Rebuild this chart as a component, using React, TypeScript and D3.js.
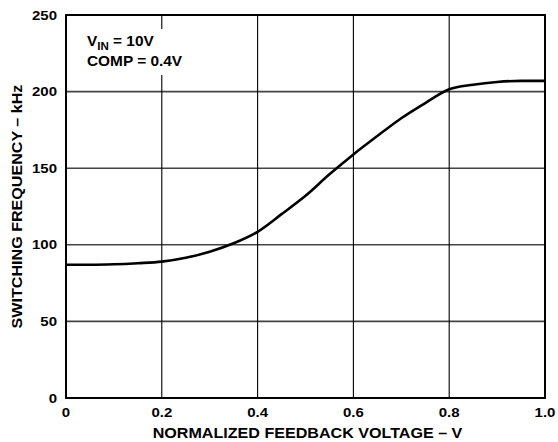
import React from "react";
import * as d3 from "d3";

const xValues = [0, 0.05, 0.1, 0.15, 0.2, 0.25, 0.3, 0.35, 0.4, 0.45, 0.5, 0.55, 0.6, 0.65, 0.7, 0.75, 0.8, 0.85, 0.9, 0.95, 1.0];
const freqValues = [87, 87, 87.3, 88, 89, 91.5, 95.5, 101, 108.5, 120, 132, 146, 159, 171, 182.6, 192.5, 201.5, 204.5, 206.3, 207, 207];
const xTicks = [0, 0.2, 0.4, 0.6, 0.8, 1.0];
const yTicks = [0, 50, 100, 150, 200, 250];

const W = 558, H = 442;
const M = { left: 66, right: 545, top: 15, bottom: 398 };
const FONT = "'Liberation Sans', Arial, Helvetica, sans-serif";

function SText({ x, y, sx = 1.15, rotate = 0, anchor = "start", size = 14, children }: any) {
  return (
    <text
      transform={`translate(${x},${y}) rotate(${rotate}) scale(${sx},1)`}
      textAnchor={anchor}
      fontSize={size}
      fontWeight="bold"
    >
      {children}
    </text>
  );
}

export default function App() {
  const x = d3.scaleLinear().domain([0, 1]).range([M.left, M.right]);
  const y = d3.scaleLinear().domain([0, 250]).range([M.bottom, M.top]);
  const pts: [number, number][] = xValues.map((v, i) => [v, freqValues[i]]);
  const line = d3.line<[number, number]>().x(d => x(d[0])).y(d => y(d[1])).curve(d3.curveMonotoneX);

  return (
    <svg width={W} height={H} style={{ position: "absolute", left: 0, top: 0 }} fontFamily={FONT}>
      <rect width={W} height={H} fill="#fff" />
      {yTicks.slice(1, -1).map(t => (
        <line key={"h" + t} x1={M.left} x2={M.right} y1={y(t)} y2={y(t)} stroke="#444" strokeWidth={1.6} />
      ))}
      {xTicks.slice(1, -1).map(t => (
        <line key={"v" + t} x1={x(t)} x2={x(t)} y1={M.top} y2={M.bottom} stroke="#000" strokeWidth={1.1} />
      ))}
      <rect x={80} y={29} width={108} height={46} fill="#fff" />
      <path d={line(pts) || ""} fill="none" stroke="#000" strokeWidth={2.6} />
      <rect x={M.left} y={M.top} width={M.right - M.left} height={M.bottom - M.top} fill="none" stroke="#000" strokeWidth={2} />
      {yTicks.map(t => (
        <SText key={"yl" + t} x={57} y={y(t) + 4.5} anchor="end" size={12.5} sx={1.2}>{t}</SText>
      ))}
      {xTicks.map(t => (
        <SText key={"xl" + t} x={x(t)} y={417} anchor="middle" size={12.5} sx={1.2}>{t === 0 ? "0" : t.toFixed(1)}</SText>
      ))}
      <SText x={(M.left + M.right) / 2 + 2} y={438} anchor="middle" size={14} sx={1.15}>NORMALIZED FEEDBACK VOLTAGE – V</SText>
      <SText x={22} y={(M.top + M.bottom) / 2} rotate={-90} anchor="middle" size={14} sx={1.15}>SWITCHING FREQUENCY – kHz</SText>
      <SText x={87} y={46} size={14} sx={1.1}>V<tspan fontSize={10.5} dy={4}>IN</tspan><tspan dy={-4}> = 10V</tspan></SText>
      <SText x={87} y={66} size={14} sx={1.1}>COMP = 0.4V</SText>
    </svg>
  );
}
